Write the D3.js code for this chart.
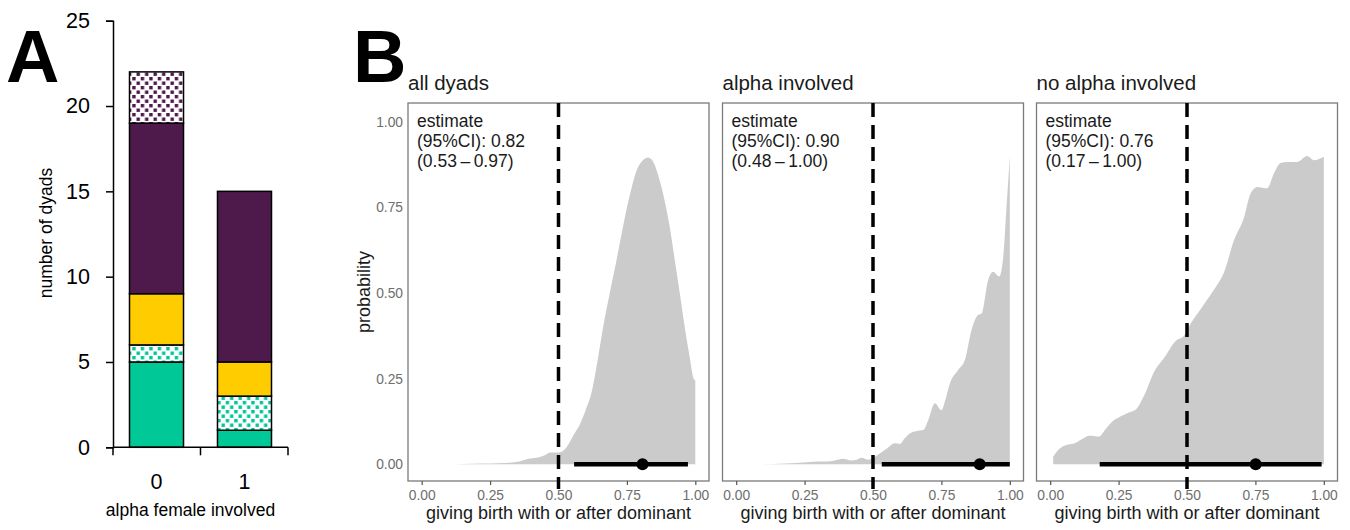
<!DOCTYPE html>
<html>
<head>
<meta charset="utf-8">
<script src="https://cdn.jsdelivr.net/npm/d3@7"></script>
<style>
  body { margin: 0; background: #fff; }
  svg { display: block; font-family: "Liberation Sans", Arial, sans-serif; }
</style>
</head>
<body>
<svg id="chart" width="1350" height="530"></svg>
<script>
// ---------------- Panel A data ----------------
const alphaCategories = ["0", "1"];
const stackKeys = ["greenSolid", "greenDotted", "yellow", "purpleSolid", "purpleDotted"];
const greenSolid   = [5, 1];
const greenDotted  = [1, 2];
const yellowVals   = [3, 2];
const purpleSolid  = [10, 10];
const purpleDotted = [3, 0];
const yTicksA = [0, 5, 10, 15, 20, 25];

// ---------------- Panel B data ----------------
const facetTitles = ["all dyads", "alpha involved", "no alpha involved"];
const estimateLabels = ["(95%CI): 0.82", "(95%CI): 0.90", "(95%CI): 0.76"];
const ciLabels = ["(0.53\u2009\u2013\u20090.97)", "(0.48\u2009\u2013\u20091.00)", "(0.17\u2009\u2013\u20091.00)"];
const pointEstimates = [0.807, 0.89, 0.751];
const ciLower = [0.557, 0.532, 0.181];
const ciUpper = [0.973, 1.0, 0.992];
const xTicksB = [0, 0.25, 0.5, 0.75, 1];
const yTicksB = [0, 0.25, 0.5, 0.75, 1];

const dens1X = [0.09,0.15,0.22,0.28,0.33,0.36,0.39,0.42,0.45,0.47,0.49,0.51,0.53,0.555,0.58,0.60,0.62,0.64,0.663,0.69,0.712,0.73,0.748,0.765,0.785,0.805,0.827,0.845,0.862,0.882,0.905,0.925,0.945,0.961,0.98,0.994,1.0];
const dens1Y = [0,0.001,0.002,0.003,0.005,0.009,0.016,0.019,0.026,0.034,0.034,0.036,0.05,0.085,0.12,0.16,0.207,0.29,0.40,0.51,0.596,0.67,0.742,0.80,0.857,0.885,0.896,0.885,0.85,0.791,0.70,0.596,0.49,0.402,0.31,0.25,0.245];
const dens2X = [0.094,0.18,0.258,0.30,0.33,0.36,0.39,0.42,0.44,0.458,0.483,0.50,0.526,0.55,0.58,0.599,0.615,0.635,0.66,0.684,0.702,0.726,0.75,0.765,0.781,0.811,0.836,0.86,0.884,0.897,0.921,0.939,0.961,0.976,0.988,1.0];
const dens2Y = [0,0.002,0.006,0.008,0.008,0.011,0.016,0.011,0.013,0.019,0.013,0.018,0.032,0.045,0.061,0.059,0.075,0.09,0.097,0.1,0.129,0.178,0.158,0.19,0.236,0.275,0.305,0.392,0.436,0.44,0.538,0.562,0.548,0.606,0.752,0.898];
const dens3X = [0.011,0.03,0.051,0.094,0.12,0.142,0.165,0.179,0.20,0.221,0.258,0.29,0.313,0.343,0.38,0.416,0.459,0.489,0.513,0.556,0.599,0.635,0.672,0.708,0.732,0.757,0.793,0.818,0.842,0.866,0.903,0.939,0.964,1.0];
const dens3Y = [0.022,0.042,0.054,0.063,0.075,0.083,0.082,0.081,0.1,0.12,0.14,0.152,0.16,0.2,0.27,0.31,0.36,0.375,0.41,0.46,0.51,0.56,0.655,0.72,0.79,0.81,0.806,0.85,0.88,0.883,0.883,0.9,0.888,0.898];
const densX = [dens1X, dens2X, dens3X];
const densY = [dens1Y, dens2Y, dens3Y];

// ---------------- styles ----------------
const GREEN = "#00C896", YELLOW = "#FFCC00", PURPLE = "#4E1A4B";
const svg = d3.select("#chart");
svg.append("rect").attr("width", 1350).attr("height", 530).attr("fill", "#fff");

// patterns
const defs = svg.append("defs");
function makePattern(id, color) {
  const p = defs.append("pattern").attr("id", id).attr("patternUnits", "userSpaceOnUse")
    .attr("width", 8.5).attr("height", 9);
  p.append("rect").attr("width", 8.5).attr("height", 9).attr("fill", "#fff");
  p.append("rect").attr("x", 0.5).attr("y", 0.5).attr("width", 3.4).attr("height", 3.4).attr("fill", color);
  p.append("rect").attr("x", 4.75).attr("y", 5).attr("width", 3.4).attr("height", 3.4).attr("fill", color);
}
makePattern("dotGreen", GREEN);
makePattern("dotPurple", PURPLE);
const fills = {
  greenSolid: GREEN, greenDotted: "url(#dotGreen)", yellow: YELLOW,
  purpleSolid: PURPLE, purpleDotted: "url(#dotPurple)"
};

// ================= Panel A =================
const rowsA = alphaCategories.map((c, i) => ({
  cat: c, greenSolid: greenSolid[i], greenDotted: greenDotted[i], yellow: yellowVals[i],
  purpleSolid: purpleSolid[i], purpleDotted: purpleDotted[i]
}));
const stacked = d3.stack().keys(stackKeys)(rowsA);

const xA = d3.scaleBand().domain(alphaCategories).range([113, 288])
  .paddingInner(0.386).paddingOuter(0.1875);
const yA = d3.scaleLinear().domain([0, 25]).range([447.3, 20.7]);

const gA = svg.append("g");
stacked.forEach(layer => {
  gA.append("g").selectAll("rect").data(layer.filter(d => d[1] > d[0])).join("rect")
    .attr("x", d => xA(d.data.cat))
    .attr("width", xA.bandwidth())
    .attr("y", d => yA(d[1]))
    .attr("height", d => yA(d[0]) - yA(d[1]))
    .attr("fill", fills[layer.key])
    .attr("stroke", "#000").attr("stroke-width", 1.5);
});

// y axis A
const yAxisA = gA.append("g").attr("transform", "translate(113,0)")
  .call(d3.axisLeft(yA).tickValues(yTicksA).tickSize(7).tickPadding(16));
yAxisA.select(".domain").attr("stroke", "#000").attr("stroke-width", 1.5);
yAxisA.selectAll(".tick line").attr("stroke", "#000").attr("stroke-width", 1.5);
yAxisA.selectAll(".tick text").attr("font-size", 21.5).attr("fill", "#000")
  .attr("font-family", "Liberation Sans, Arial, sans-serif");

// x axis A (labels centered in bands, ticks at band boundaries)
const xAxisA = gA.append("g").attr("transform", `translate(0,${yA(0)})`)
  .call(d3.axisBottom(xA).tickSize(0).tickPadding(26));
xAxisA.select(".domain").remove();
xAxisA.selectAll(".tick text").attr("font-size", 21.5).attr("fill", "#000")
  .attr("font-family", "Liberation Sans, Arial, sans-serif");
const [ra0, ra1] = xA.range();
gA.append("line").attr("x1", ra0).attr("x2", ra1).attr("y1", yA(0)).attr("y2", yA(0))
  .attr("stroke", "#000").attr("stroke-width", 1.5);
const boundaries = [ra0, xA(alphaCategories[1]) - xA.step() * xA.paddingInner() / 2, ra1];
gA.selectAll(".bt").data(boundaries).join("line")
  .attr("x1", d => d).attr("x2", d => d).attr("y1", yA(0)).attr("y2", yA(0) + 8)
  .attr("stroke", "#000").attr("stroke-width", 1.5);

gA.append("text").attr("x", (ra0 + ra1) / 2 - 10).attr("y", 516).attr("text-anchor", "middle")
  .attr("font-size", 17.5).attr("fill", "#000").text("alpha female involved");
gA.append("text").attr("transform", "translate(52,233) rotate(-90)").attr("text-anchor", "middle")
  .attr("font-size", 17.5).attr("fill", "#000").text("number of dyads");

svg.append("text").attr("x", 6).attr("y", 82).attr("font-size", 74).attr("font-weight", "bold")
  .attr("fill", "#000").text("A");
svg.append("text").attr("x", 353).attr("y", 82).attr("font-size", 74).attr("font-weight", "bold")
  .attr("fill", "#000").text("B");

// ================= Panel B =================
const panelX0 = [408, 722.5, 1036.5];
const panelW = 301, panelTop = 103, panelBottom = 481;
const yB = d3.scaleLinear().domain([-0.049, 1.055]).range([panelBottom, panelTop]);

facetTitles.forEach((title, i) => {
  const x0 = panelX0[i];
  const xB = d3.scaleLinear().domain([-0.05, 1.05]).range([x0, x0 + panelW]);
  const g = svg.append("g");

  // density
  const pts = densX[i].map((x, j) => [x, densY[i][j]]);
  const area = d3.area().x(d => xB(d[0])).y0(yB(0)).y1(d => yB(d[1])).curve(d3.curveMonotoneX);
  g.append("path").datum(pts).attr("d", area).attr("fill", "#cbcbcb");

  // interval
  g.append("line").attr("x1", xB(ciLower[i])).attr("x2", xB(ciUpper[i]))
    .attr("y1", yB(0)).attr("y2", yB(0)).attr("stroke", "#000").attr("stroke-width", 4.5);
  g.append("circle").attr("cx", xB(pointEstimates[i])).attr("cy", yB(0)).attr("r", 6).attr("fill", "#000");

  // panel border
  g.append("rect").attr("x", x0).attr("y", panelTop).attr("width", panelW)
    .attr("height", panelBottom - panelTop).attr("fill", "none")
    .attr("stroke", "#7a7a7a").attr("stroke-width", 1.3);

  // x axis
  const xAxis = g.append("g").attr("transform", `translate(0,${panelBottom})`)
    .call(d3.axisBottom(xB).tickValues(xTicksB).tickFormat(d3.format(".2f")).tickSize(4).tickPadding(5));
  xAxis.select(".domain").remove();
  xAxis.selectAll(".tick line").attr("stroke", "#555").attr("stroke-width", 1.2);
  xAxis.selectAll(".tick text").attr("font-size", 13.8).attr("fill", "#6e6e6e")
    .attr("font-family", "Liberation Sans, Arial, sans-serif");

  if (i === 0) {
    const yAxis = g.append("g").attr("transform", `translate(${x0},0)`)
      .call(d3.axisLeft(yB).tickValues(yTicksB).tickFormat(d3.format(".2f")).tickSize(0).tickPadding(5));
    yAxis.select(".domain").remove();
    yAxis.selectAll(".tick text").attr("font-size", 13.8).attr("fill", "#6e6e6e")
      .attr("font-family", "Liberation Sans, Arial, sans-serif");
    g.append("text").attr("transform", `translate(370,${(panelTop + panelBottom) / 2}) rotate(-90)`)
      .attr("text-anchor", "middle").attr("font-size", 18).attr("fill", "#1a1a1a").text("probability");
  }

  // reference line at 0.5
  g.append("line").attr("x1", xB(0.5)).attr("x2", xB(0.5)).attr("y1", panelTop).attr("y2", 489)
    .attr("stroke", "#000").attr("stroke-width", 3.5).attr("stroke-dasharray", "14,8");

  // titles and annotations
  g.append("text").attr("x", x0).attr("y", 90).attr("font-size", 20.5).attr("fill", "#1a1a1a").text(title);
  const ann = g.append("text").attr("x", x0 + 9).attr("font-size", 17.5).attr("fill", "#1a1a1a");
  ann.append("tspan").attr("x", x0 + 9).attr("y", 126.5).text("estimate");
  ann.append("tspan").attr("x", x0 + 9).attr("y", 146.5).text(estimateLabels[i]);
  ann.append("tspan").attr("x", x0 + 9).attr("y", 166.5).text(ciLabels[i]);

  g.append("text").attr("x", x0 + panelW / 2).attr("y", 519).attr("text-anchor", "middle")
    .attr("font-size", 18).attr("fill", "#1a1a1a").text("giving birth with or after dominant");
});
</script>
</body>
</html>
